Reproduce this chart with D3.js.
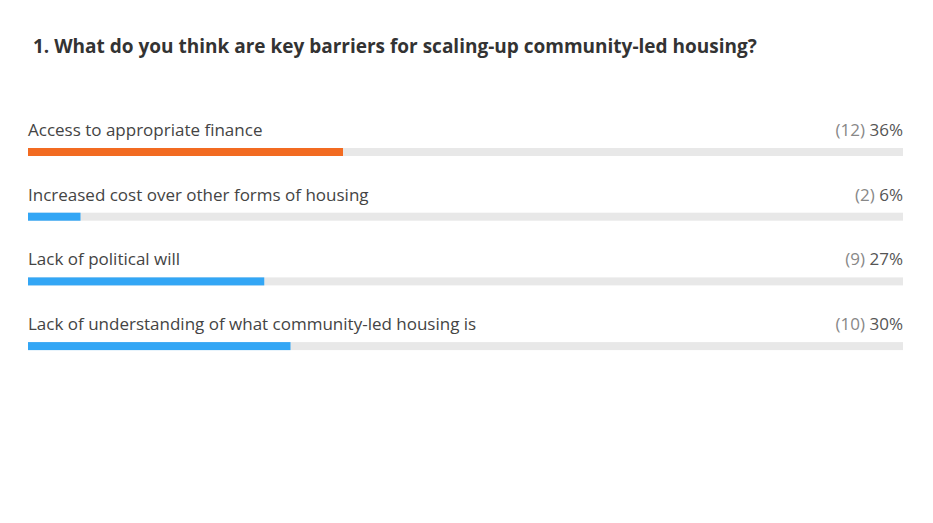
<!DOCTYPE html>
<html lang="en">
  <head>
    <meta charset="UTF-8" />
    <title>Key barriers</title>
    <script src="https://cdn.jsdelivr.net/npm/d3@7/dist/d3.min.js"></script>
    <style>
      body { margin: 0; background: #fff; }
      text { font-family: 'Open Sans', 'Noto Sans', sans-serif; }
    </style>
  </head>
  <body>
    <div id='app'></div>
    <script>
  const title = '1. What do you think are key barriers for scaling-up community-led housing?'
  const categories = [
    'Access to appropriate finance',
    'Increased cost over other forms of housing',
    'Lack of political will',
    'Lack of understanding of what community-led housing is'
  ]
  const counts = [12, 2, 9, 10]
  const percents = [36, 6, 27, 30]
  const highlight = 0

  const width = 933
  const height = 523
  const marginLeft = 28
  const marginRight = 903
  const listTop = 115
  const rowStep = 64.7
  const barH = 8

  const svg = d3.select('#app').append('svg')
    .attr('width', width)
    .attr('height', height)

  svg.append('text')
    .attr('x', 33)
    .attr('y', 53)
    .attr('font-size', 19)
    .attr('font-weight', 700)
    .attr('fill', '#333')
    .text(title)

  const x = d3.scaleLinear().domain([0, 100]).range([marginLeft, marginRight])
  const y = d3.scaleBand()
    .domain(categories)
    .range([listTop, listTop + rowStep * categories.length])

  const rows = svg.selectAll('g.row')
    .data(categories.map((c, i) => ({ c, n: counts[i], p: percents[i], i })))
    .join('g')
    .attr('class', 'row')
    .attr('transform', d => `translate(0,${y(d.c)})`)

  rows.append('text')
    .attr('x', marginLeft)
    .attr('y', 21)
    .attr('font-size', 17)
    .attr('fill', '#444')
    .text(d => d.c)

  const val = rows.append('text')
    .attr('x', marginRight)
    .attr('y', 21)
    .attr('font-size', 17)
    .attr('text-anchor', 'end')
  val.append('tspan').attr('fill', '#888').text(d => `(${d.n}) `)
  val.append('tspan').attr('fill', '#555').text(d => `${d.p}%`)

  rows.append('rect')
    .attr('x', x(0))
    .attr('y', 33)
    .attr('width', x(100) - x(0))
    .attr('height', barH)
    .attr('fill', '#e8e8e8')

  rows.append('rect')
    .attr('x', x(0))
    .attr('y', 33)
    .attr('width', d => x(d.p) - x(0))
    .attr('height', barH)
    .attr('fill', d => d.i === highlight ? '#f26b21' : '#33a6f5')
    </script>
  </body>
</html>
